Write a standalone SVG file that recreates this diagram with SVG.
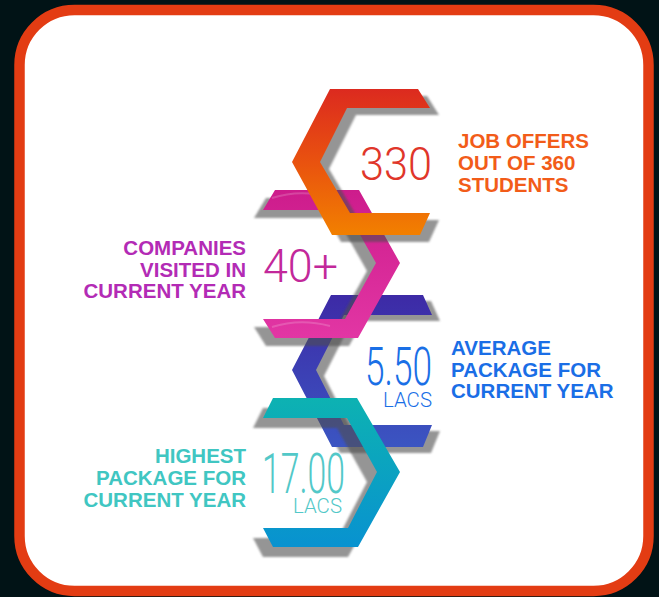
<svg xmlns="http://www.w3.org/2000/svg" width="659" height="597" viewBox="0 0 659 597">
<style>
.lbl{font-family:"Liberation Sans",Arial,sans-serif;font-weight:bold;font-size:20.5px}
.num{font-family:Roboto,"Liberation Sans",sans-serif;font-weight:300}
.shadow{fill:#505050;opacity:0.6;filter:url(#blur)}
</style>
<defs>
<filter id="blur" x="-10%" y="-10%" width="120%" height="120%"><feGaussianBlur stdDeviation="1.2"/></filter>
<linearGradient id="gRed" x1="0" y1="0" x2="0" y2="1"><stop offset="0" stop-color="#dc2a1f"/><stop offset="0.5" stop-color="#e9520f"/><stop offset="1" stop-color="#f28000"/></linearGradient>
<linearGradient id="gMag" x1="0" y1="0" x2="0" y2="1"><stop offset="0" stop-color="#cd1c8c"/><stop offset="1" stop-color="#e236a4"/></linearGradient>
<linearGradient id="gInd" x1="0" y1="0" x2="0" y2="1"><stop offset="0" stop-color="#3d2aa6"/><stop offset="1" stop-color="#3b55c2"/></linearGradient>
<linearGradient id="gTeal" x1="0" y1="0" x2="0" y2="1"><stop offset="0" stop-color="#0db2b2"/><stop offset="1" stop-color="#0892d0"/></linearGradient>
<polygon id="pRed" points="330,89 418,89 430,108 347,108 320,162 350,213 430,213 420,235 332,235 292,162"/>
<polygon id="pMag" points="275,190 359,190 400,263 358,338 275,338 263,319 345,319 376,263 346,210 263,210"/>
<polygon id="pInd" points="331,295 423,295 432,315 344,315 316,370 344,425 432,425 423,447 332,447 292,370"/>
<polygon id="pTeal" points="273,398 357,398 400,472 358,547 273,547 263,528 348,528 377,472 347,418 263,418"/>
</defs>
<rect x="0" y="0" width="659" height="597" fill="#011316"/>
<rect x="19.5" y="10" width="629" height="581" rx="55" ry="55" fill="#ffffff" stroke="#e33c13" stroke-width="10.5"/>

<g id="node-avg">
<use href="#pInd" class="shadow" transform="translate(8,6)"/>
<use href="#pInd" fill="url(#gInd)"/>
<text class="num" x="365" y="385" font-size="53" fill="#1a6fe6" textLength="67" lengthAdjust="spacingAndGlyphs">5.50</text>
<text class="num" x="383" y="407" font-size="19.5" fill="#1a6fe6" textLength="49" lengthAdjust="spacingAndGlyphs">LACS</text>
<text class="lbl" fill="#1a6ee6"><tspan x="451" y="355">AVERAGE</tspan><tspan x="451" y="377">PACKAGE FOR</tspan><tspan x="451" y="398">CURRENT YEAR</tspan></text>
</g>

<g id="node-highest">
<use href="#pTeal" class="shadow" transform="translate(-10,10)"/>
<use href="#pTeal" fill="url(#gTeal)"/>
<text class="num" x="262" y="493" font-size="56" fill="#52c8c8" textLength="83" lengthAdjust="spacingAndGlyphs">17.00</text>
<text class="num" x="293" y="513" font-size="21" fill="#52c8c8" textLength="49" lengthAdjust="spacingAndGlyphs">LACS</text>
<text class="lbl" fill="#40c6c2" text-anchor="end"><tspan x="246" y="463">HIGHEST</tspan><tspan x="246" y="485">PACKAGE FOR</tspan><tspan x="246" y="507">CURRENT YEAR</tspan></text>
</g>

<g id="node-companies">
<use href="#pMag" class="shadow" transform="translate(-9,8)"/>
<use href="#pMag" fill="url(#gMag)"/>
<path d="M272,198 Q300,189 330,197" fill="none" stroke="#ffffff" stroke-opacity="0.18" stroke-width="2"/>
<path d="M272,327 Q300,318 330,326" fill="none" stroke="#ffffff" stroke-opacity="0.18" stroke-width="2"/>
<text class="num" x="263" y="282" font-size="47" fill="#c2289a" textLength="75" lengthAdjust="spacingAndGlyphs">40+</text>
<text class="lbl" fill="#b32bb5" text-anchor="end"><tspan x="246" y="255">COMPANIES</tspan><tspan x="246" y="277">VISITED IN</tspan><tspan x="246" y="298">CURRENT YEAR</tspan></text>
</g>

<g id="node-offers">
<use href="#pRed" class="shadow" transform="translate(9,7)"/>
<use href="#pRed" fill="url(#gRed)"/>
<text class="num" x="360" y="180" font-size="46" fill="#e0362a" textLength="72" lengthAdjust="spacingAndGlyphs">330</text>
<text class="lbl" fill="#f25c19"><tspan x="458" y="148">JOB OFFERS</tspan><tspan x="458" y="170">OUT OF 360</tspan><tspan x="458" y="192">STUDENTS</tspan></text>
</g>

<g id="connectors"></g>
</svg>
